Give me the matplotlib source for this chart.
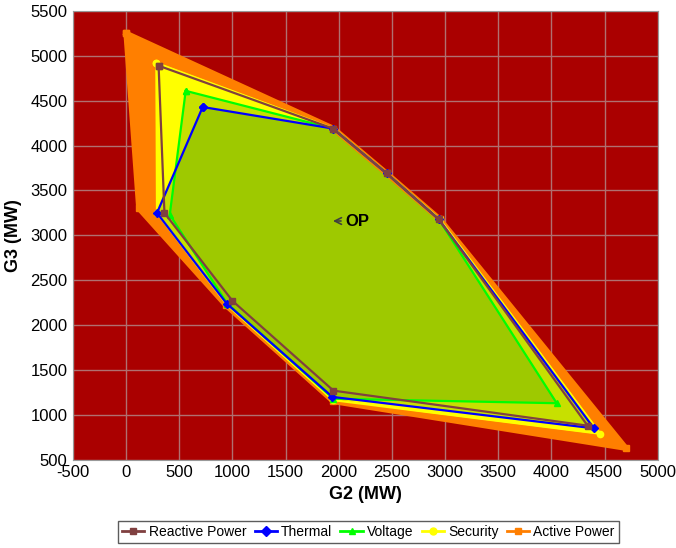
import matplotlib
matplotlib.use('Agg')
import matplotlib.pyplot as plt
from matplotlib.lines import Line2D

plt.rcParams['font.family'] = ['Liberation Sans', 'DejaVu Sans']
plt.rcParams['axes.unicode_minus'] = False

# polygon vertices (G2, G3) in MW for each limit
active_x = [0, 1950, 2450, 2950, 4700, 1950, 940, 120]
active_y = [5250, 4190, 3690, 3180, 630, 1150, 2220, 3300]

security_x = [285, 1950, 2450, 2950, 4460, 1945, 945, 290]
security_y = [4920, 4190, 3690, 3180, 790, 1165, 2230, 3250]

voltage_x = [560, 1945, 2450, 2940, 4050, 1950, 950, 410]
voltage_y = [4610, 4190, 3690, 3180, 1130, 1180, 2240, 3230]

thermal_x = [720, 1945, 2450, 2940, 4400, 1940, 945, 290]
thermal_y = [4430, 4190, 3690, 3180, 850, 1200, 2240, 3250]

reactive_x = [305, 1945, 2450, 2940, 4340, 1950, 1000, 360]
reactive_y = [4890, 4190, 3690, 3180, 880, 1270, 2270, 3250]

op_x, op_y = 1945, 3160

fig = plt.figure(figsize=(6.76, 5.48), dpi=100)
ax = fig.add_axes([0.108, 0.161, 0.865, 0.819])
ax.set_facecolor('#aa0000')

def closed(xs, ys):
    return xs + xs[:1], ys + ys[:1]

# filled regions
ax.fill(active_x, active_y, color='#ff7f00', zorder=1)
ax.fill(security_x, security_y, color='#ffff00', zorder=2)
ax.fill(voltage_x, voltage_y, color='#2a8800', alpha=0.26, lw=0, zorder=3)
ax.fill(thermal_x, thermal_y, color='#2a8800', alpha=0.26, lw=0, zorder=3)

series = [
    ('Active Power', active_x, active_y, '#ff7f00', 's', 4.0),
    ('Security', security_x, security_y, '#ffff00', 'o', 1.6),
    ('Voltage', voltage_x, voltage_y, '#00ff00', '^', 1.6),
    ('Thermal', thermal_x, thermal_y, '#0000ff', 'D', 1.6),
    ('Reactive Power', reactive_x, reactive_y, '#804040', 's', 1.6),
]
z = 4
for name, xs, ys, c, m, w in series:
    cx, cy = closed(xs, ys)
    ax.plot(cx, cy, color=c, lw=w, marker=m, ms=4.5, zorder=z)
    z += 1

ax.annotate('OP', xy=(op_x, op_y), xytext=(2060, op_y), ha='left', va='center',
            fontsize=12, fontweight='bold', color='black', zorder=12,
            arrowprops=dict(arrowstyle='->', color='#404040', lw=1.2,
                            shrinkA=1, shrinkB=0))

ax.set_xlim(-500, 5000)
ax.set_ylim(500, 5500)
ax.set_xticks(range(-500, 5001, 500))
ax.set_yticks(range(500, 5501, 500))
ax.grid(True, color='#b07070', lw=1, zorder=0)
ax.set_axisbelow(True)
for s in ax.spines.values():
    s.set_color('#999999')
ax.tick_params(labelsize=12, length=0, pad=4)
ax.set_xlabel('G2 (MW)', fontsize=13, fontweight='bold', labelpad=4)
ax.set_ylabel('G3 (MW)', fontsize=13, fontweight='bold', labelpad=6)

order = ['Reactive Power', 'Thermal', 'Voltage', 'Security', 'Active Power']
lookup = {s[0]: s for s in series}
handles = [Line2D([], [], color=lookup[n][3], marker=lookup[n][4], lw=2, ms=5)
           for n in order]
leg = fig.legend(handles, order, loc='center', bbox_to_anchor=(0.545, 0.029),
                 ncol=5, fontsize=10, frameon=True, fancybox=False,
                 handlelength=1.6, handletextpad=0.3, columnspacing=0.6,
                 borderpad=0.3)
leg.get_frame().set_edgecolor('#333333')
leg.get_frame().set_linewidth(1)

fig.savefig('out.png', dpi=100)
